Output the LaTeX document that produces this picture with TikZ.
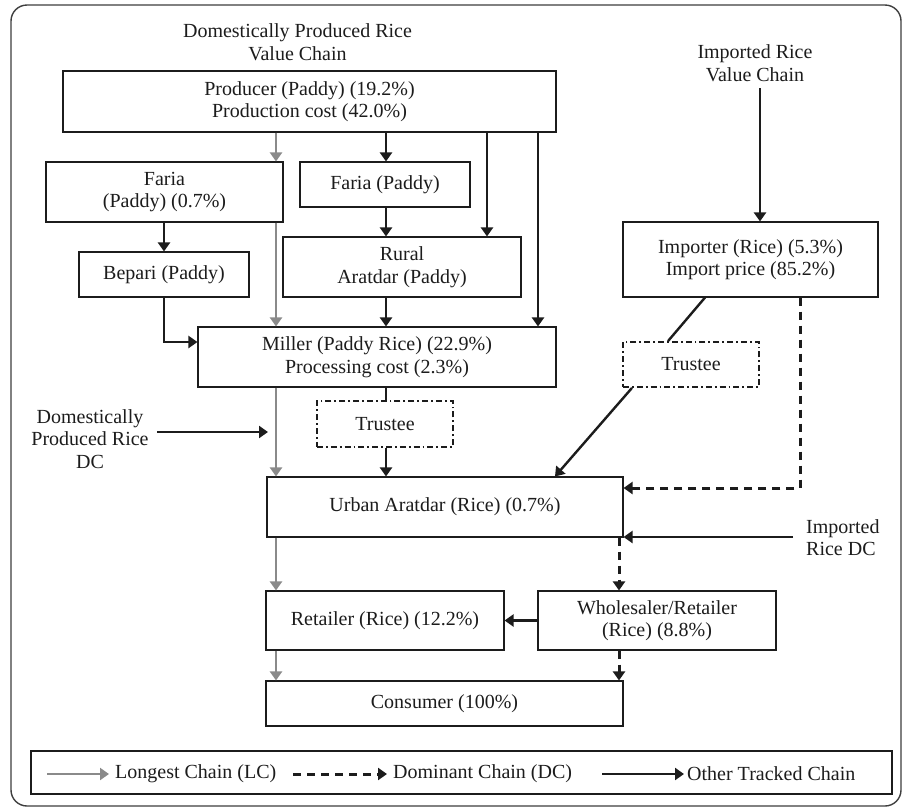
\documentclass[tikz,border=0pt]{standalone}
\usepackage{fontspec}
\setmainfont{Liberation Serif}
\usetikzlibrary{arrows.meta,calc}
\definecolor{ink}{HTML}{1C1C1C}
\definecolor{lcgray}{HTML}{8A8A8A}
\newcommand{\fs}{\fontsize{20}{22.5}\selectfont}
\tikzset{
  box/.style={draw=ink, line width=1.1pt, fill=white, align=center, inner sep=0pt, font=\fs, text=ink},
  tbox/.style={draw=ink, line width=1.8pt, dash pattern=on 6pt off 3pt on 1.8pt off 3pt, fill=white, align=center, inner sep=0pt, font=\fs, text=ink},
  lbl/.style={align=center, inner sep=0pt, font=\fs, text=ink},
  tip/.style={-{Triangle[length=9pt,width=12pt]}},
  lc/.style={draw=lcgray, line width=2.2pt, tip},
  oc/.style={draw=ink, line width=2.4pt, tip},
  ocl/.style={draw=ink, line width=2.4pt},
  dc/.style={draw=ink, line width=3pt, dash pattern=on 8pt off 6pt, tip},
}
\begin{document}
\begin{tikzpicture}[x=1pt,y=-1pt]
\useasboundingbox (0,0) rectangle (903,807);
\draw[draw=ink!85, line width=1.4pt, rounded corners=16pt] (11,5) rectangle (901,806);

% titles
\node[lbl] (tdom) at (297.5,42) {Domestically Produced Rice\\Value Chain};
\node[lbl] (timp) at (755,63) {Imported Rice\\Value Chain};
\node[lbl] (ddc) at (90,439) {Domestically\\Produced Rice\\DC};
\node[lbl, align=left, anchor=west] (idct) at (806,537.5) {Imported\\Rice DC};

% boxes
\node[box, minimum width=493pt, minimum height=61pt] (prod) at (309.5,101.5) {Producer (Paddy) (19.2\%)\\Production cost (42.0\%)};
\node[box, minimum width=237pt, minimum height=60pt] (faria1) at (164.5,192) {Faria\\(Paddy) (0.7\%)};
\node[box, minimum width=170pt, minimum height=45pt] (faria2) at (385,184.5) {Faria (Paddy)};
\node[box, minimum width=170pt, minimum height=45pt] (bepari) at (164,274.5) {Bepari (Paddy)};
\node[box, minimum width=238pt, minimum height=60pt] (rural) at (402,267) {Rural\\Aratdar (Paddy)};
\node[box, minimum width=358pt, minimum height=60pt] (miller) at (377,357) {Miller (Paddy Rice) (22.9\%)\\Processing cost (2.3\%)};
\node[tbox, minimum width=136pt, minimum height=46pt] (trust1) at (385,424) {Trustee};
\node[box, minimum width=356pt, minimum height=60pt] (urban) at (445,507) {Urban Aratdar (Rice) (0.7\%)};
\node[box, minimum width=255pt, minimum height=75pt] (importer) at (750.5,259.5) {Importer (Rice) (5.3\%)\\Import price (85.2\%)};
\node[tbox, minimum width=136pt, minimum height=45pt] (trust2) at (691,364.5) {Trustee};
\node[box, minimum width=238pt, minimum height=59pt] (retailer) at (385,620.5) {Retailer (Rice) (12.2\%)};
\node[box, minimum width=238pt, minimum height=59pt] (whole) at (657,620.5) {Wholesaler/Retailer\\(Rice) (8.8\%)};
\node[box, minimum width=357pt, minimum height=45pt] (consumer) at (444.5,703.5) {Consumer (100\%)};

% x positions
\coordinate (xg) at (276,0);
\coordinate (xm) at (386,0);
\coordinate (xr) at (487,0);
\coordinate (xp) at (538,0);
\coordinate (xb) at (164,0);
\coordinate (xi) at (760,0);
\coordinate (xd) at (619,0);
\coordinate (xt1) at (705,0);
\coordinate (xt2) at (668,0);
\coordinate (xt3) at (632,0);
\coordinate (xu) at (555,0);

% longest chain (gray)
\draw[lc] (xg |- prod.south) -- (xg |- faria1.north);
\draw[lc] (xg |- faria1.south) -- (xg |- miller.north);
\draw[lc] (xg |- miller.south) -- (xg |- urban.north);
\draw[lc] (xg |- urban.south) -- (xg |- retailer.north);
\draw[lc] (xg |- retailer.south) -- (xg |- consumer.north);

% other tracked chains
\draw[oc] (xm |- prod.south) -- (xm |- faria2.north);
\draw[oc] (xm |- faria2.south) -- (xm |- rural.north);
\draw[oc] (xr |- prod.south) -- (xr |- rural.north);
\draw[oc] (xp |- prod.south) -- (xp |- miller.north);
\draw[oc] (xb |- faria1.south) -- (xb |- bepari.north);
\coordinate (bm) at (164,342);
\draw[oc] (bepari.south) -- (bm) -- (bm -| miller.west);
\draw[oc] (xm |- rural.south) -- (xm |- miller.north);
\draw[ocl] (xm |- miller.south) -- (xm |- trust1.north);
\draw[oc] (xm |- trust1.south) -- (xm |- urban.north);
\coordinate (ddcs) at (157,432);
\coordinate (ddce) at (268,432);
\draw[oc] (ddcs) -- (ddce);
\coordinate (imps) at (760,88);
\draw[oc] (imps) -- (xi |- importer.north);
\draw[ocl] (xt1 |- importer.south) -- (xt2 |- trust2.north);
\draw[oc] (xt3 |- trust2.south) -- (xu |- urban.north);
\coordinate (idcs) at (793,537);
\draw[oc] (idcs) -- (idcs -| urban.east);
\draw[oc] (whole.west) -- (retailer.east);

% dominant chain (dashed)
\coordinate (dc1) at (800,488);
\draw[dc] (dc1 |- importer.south) -- (dc1) -- (dc1 -| urban.east);
\draw[dc] (xd |- urban.south) -- (xd |- whole.north);
\draw[dc] (xd |- whole.south) -- (xd |- consumer.north);

% legend
\node[box, minimum width=861pt, minimum height=43pt] (legend) at (461.5,772.5) {};
\coordinate (l1s) at (47,774); \coordinate (l1e) at (109,774);
\coordinate (l2s) at (293,774); \coordinate (l2e) at (387,774);
\coordinate (l3s) at (602,774); \coordinate (l3e) at (684,774);
\draw[lc] (l1s) -- (l1e);
\node[lbl, anchor=west] (lt1) at (115,774) {Longest Chain (LC)};
\draw[dc] (l2s) -- (l2e);
\node[lbl, anchor=west] (lt2) at (393,774) {Dominant Chain (DC)};
\draw[oc] (l3s) -- (l3e);
\node[lbl, anchor=west] (lt3) at (687,774) {Other Tracked Chain};
\end{tikzpicture}
\end{document}
